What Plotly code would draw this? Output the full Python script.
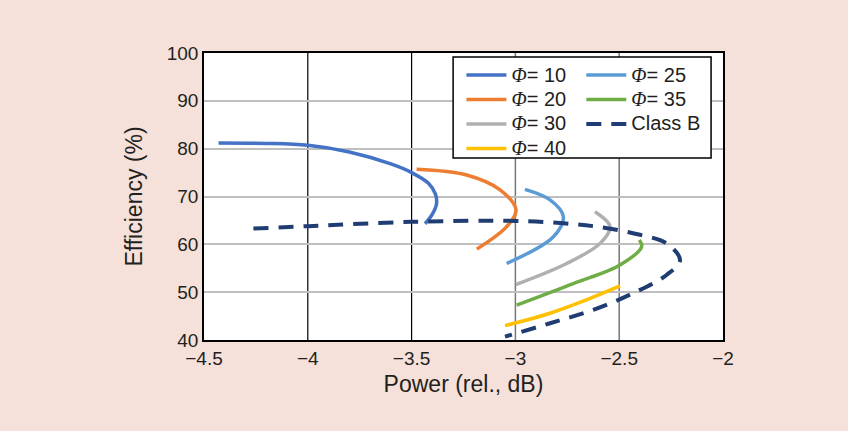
import plotly.graph_objects as go

# Efficiency versus relative output power for several phase offsets (Φ) and class B
phi10_x = [-4.43, -4.2, -4.0, -3.8, -3.6, -3.5, -3.42, -3.385, -3.38, -3.40, -3.435]
phi10_y = [81.2, 81.1, 80.7, 79.3, 76.8, 75.0, 72.8, 70.5, 68.5, 66.3, 64.3]

phi20_x = [-3.476, -3.235, -3.074, -2.997, -3.042, -3.186]
phi20_y = [75.7, 74.5, 71.4, 67.2, 63.7, 59.0]

phi25_x = [-2.954, -2.833, -2.769, -2.817, -3.042]
phi25_y = [71.5, 69.3, 65.8, 61.6, 56.0]

phi30_x = [-2.617, -2.544, -2.592, -2.753, -2.997]
phi30_y = [66.8, 63.7, 60.2, 56.0, 51.6]

phi35_x = [-2.403, -2.392, -2.496, -2.721, -2.994]
phi35_y = [60.9, 59.5, 55.7, 51.8, 47.3]

phi40_x = [-3.05, -2.833, -2.657, -2.496]
phi40_y = [43.0, 45.6, 48.4, 51.3]

classb_x = [-4.262, -4.0, -3.5, -3.002, -2.769, -2.592, -2.4, -2.272, -2.207, -2.272,
            -2.432, -2.625, -2.833, -3.05]
classb_y = [63.3, 63.8, 64.7, 64.9, 64.4, 63.6, 62.0, 60.2, 56.7, 53.6,
            49.8, 46.3, 43.5, 40.7]

x_ticks = [-4.5, -4, -3.5, -3, -2.5, -2]
y_ticks = [40, 50, 60, 70, 80, 90, 100]

# vertical grid lines: first two drawn black, the others dark grey
grid_black = [-4, -3.5]
grid_grey = [-3, -2.5]

PINK = "#f5e1da"
FONT = "Liberation Sans, Arial, sans-serif"


def legend_text(body):
    # text drawn at 20px while the legend rows are spaced for a smaller font
    return f"<span style=\"font-size:20px\">{body}</span>"


def phi_label(v):
    return legend_text("<span style=\"font-family:Liberation Serif\"><i>Φ</i></span>"
                       f"= {v}")


fig = go.Figure()

series = [
    (phi10_x, phi10_y, phi_label(10), "#4472c4", "legend"),
    (phi20_x, phi20_y, phi_label(20), "#ed7d31", "legend"),
    (phi30_x, phi30_y, phi_label(30), "#b0b0b0", "legend"),
    (phi40_x, phi40_y, phi_label(40), "#ffc000", "legend"),
    (phi25_x, phi25_y, phi_label(25), "#5b9bd5", "legend2"),
    (phi35_x, phi35_y, phi_label(35), "#70ad47", "legend2"),
]
for xs, ys, name, color, leg in series:
    fig.add_trace(go.Scatter(
        x=xs, y=ys, mode="lines", name=name, legend=leg,
        line=dict(color=color, width=3.5, shape="spline", smoothing=1.0),
    ))

fig.add_trace(go.Scatter(
    x=classb_x, y=classb_y, mode="lines", name=legend_text("Class B"), legend="legend2",
    line=dict(color="#1f3d73", width=4, dash="15px,10px", shape="spline", smoothing=1.0),
))

for v in grid_black:
    fig.add_vline(x=v, line=dict(color="#000000", width=1.2), layer="below")
for v in grid_grey:
    fig.add_vline(x=v, line=dict(color="#777777", width=1.5), layer="below")

# legend frame
fig.add_shape(type="rect", xref="paper", yref="paper",
              x0=0.480, x1=0.977, y0=0.634, y1=0.986,
              line=dict(color="#000000", width=1.5), fillcolor="white", layer="above")

legend_common = dict(
    bgcolor="rgba(0,0,0,0)", borderwidth=0,
    font=dict(family=FONT, size=16.5, color="#231f20"),
    tracegroupgap=0, xanchor="left", yanchor="top", itemwidth=40,
)

fig.update_layout(
    width=848, height=431,
    paper_bgcolor=PINK, plot_bgcolor="white",
    margin=dict(l=204, r=125, t=53, b=91),
    font=dict(family=FONT, size=19, color="#231f20"),
    showlegend=True,
    legend=dict(x=0.496, y=0.983, **legend_common),
    legend2=dict(x=0.727, y=0.983, **legend_common),
    xaxis=dict(
        range=[-4.5, -2], tickvals=x_ticks, showgrid=False, zeroline=False,
        showline=True, linecolor="#000000", linewidth=1.5, mirror=True,
        ticks="", title=dict(text="Power (rel., dB)", standoff=8),
    ),
    yaxis=dict(
        range=[40, 100], tickvals=y_ticks, showgrid=True, gridcolor="#bfbfbf", gridwidth=1.5,
        zeroline=False, showline=True, linecolor="#000000", linewidth=1.5, mirror=True,
        ticks="", title=dict(text="Efficiency (%)", standoff=18),
    ),
)

fig.write_html("out.html")
